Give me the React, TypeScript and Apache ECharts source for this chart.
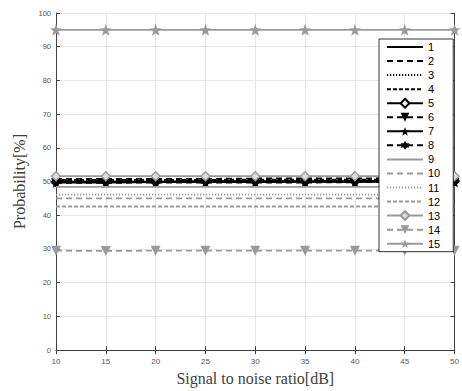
import React, { useEffect, useRef } from "react";
import * as echarts from "echarts";

const snr = [10, 15, 20, 25, 30, 35, 40, 45, 50];
const seriesNames = ["1", "2", "3", "4", "5", "6", "7", "8", "9", "10", "11", "12", "13", "14", "15"];
const s1 = [50.0, 50.0, 50.0, 50.1, 50.1, 50.1, 50.1, 50.2, 50.2];
const s2 = [50.8, 50.8, 50.8, 50.8, 50.9, 50.9, 50.9, 50.9, 50.9];
const s3 = [50.3, 50.3, 50.3, 50.3, 50.4, 50.4, 50.4, 50.4, 50.4];
const s4 = [50.5, 50.5, 50.5, 50.5, 50.6, 50.6, 50.6, 50.6, 50.6];
const s5 = [49.9, 49.9, 49.9, 50.0, 50.0, 50.0, 50.0, 50.1, 50.1];
const s6 = [49.6, 49.6, 49.7, 49.7, 49.7, 49.7, 49.8, 49.8, 49.8];
const s7 = [49.7, 49.7, 49.8, 49.8, 49.8, 49.9, 49.9, 49.9, 49.9];
const s8 = [50.2, 50.2, 50.2, 50.2, 50.3, 50.3, 50.3, 50.3, 50.3];
const s9 = [48.4, 48.4, 48.4, 48.4, 48.4, 48.4, 48.4, 48.4, 48.4];
const s10 = [45.0, 45.0, 45.0, 45.0, 45.0, 45.0, 45.0, 45.0, 45.0];
const s11 = [46.1, 46.1, 46.1, 46.1, 46.1, 46.1, 46.1, 46.1, 46.1];
const s12 = [42.6, 42.6, 42.6, 42.6, 42.6, 42.6, 42.6, 42.6, 42.6];
const s13 = [51.6, 51.6, 51.6, 51.6, 51.6, 51.6, 51.6, 51.6, 51.6];
const s14 = [29.5, 29.4, 29.5, 29.5, 29.5, 29.5, 29.5, 29.5, 29.5];
const s15 = [95.0, 95.0, 95.0, 95.0, 95.0, 95.0, 95.0, 95.0, 95.0];
const allValues = [s1, s2, s3, s4, s5, s6, s7, s8, s9, s10, s11, s12, s13, s14, s15];

const BLACK = "#000000";
const GREY = "#9a9a9a";

function starPath(): string {
  const pts: string[] = [];
  for (let i = 0; i < 10; i++) {
    const a = (-90 + i * 36) * Math.PI / 180;
    const r = i % 2 === 0 ? 1 : 0.4;
    pts.push((i === 0 ? "M" : "L") + (r * Math.cos(a)).toFixed(3) + " " + (r * Math.sin(a)).toFixed(3));
  }
  return "path://" + pts.join(" ") + " Z";
}
const STAR = starPath();
const HEXAGRAM = "path://M0 -1 L0.866 0.5 L-0.866 0.5 Z M0 1 L-0.866 -0.5 L0.866 -0.5 Z";

type Style = {
  color: string;
  type: any;
  symbol: string;
  size?: number;
  rotate?: number;
  fill?: string;
};

const styles: Style[] = [
  { color: BLACK, type: "solid", symbol: "none" },
  { color: BLACK, type: [6, 4], symbol: "none" },
  { color: BLACK, type: [1.2, 1.8], symbol: "none" },
  { color: BLACK, type: [4, 2, 4, 2], symbol: "none" },
  { color: BLACK, type: "solid", symbol: "diamond", size: 9, fill: "#ffffff" },
  { color: BLACK, type: [6, 4], symbol: "triangle", size: 9, rotate: 180 },
  { color: BLACK, type: "solid", symbol: STAR, size: 11 },
  { color: BLACK, type: [6, 4], symbol: HEXAGRAM, size: 10 },
  { color: GREY, type: "solid", symbol: "none" },
  { color: GREY, type: [6, 4], symbol: "none" },
  { color: GREY, type: [1.2, 1.8], symbol: "none" },
  { color: GREY, type: [4, 2, 4, 2], symbol: "none" },
  { color: GREY, type: "solid", symbol: "diamond", size: 9, fill: "#dddddd" },
  { color: GREY, type: [6, 4], symbol: "triangle", size: 10, rotate: 180 },
  { color: GREY, type: "solid", symbol: STAR, size: 12 },
];

export default function App() {
  const ref = useRef<HTMLDivElement>(null);
  useEffect(() => {
    document.body.style.margin = "0";
    const chart = echarts.init(ref.current!, undefined, { renderer: "svg" });
    const series = seriesNames.map((name, i) => {
      const st = styles[i];
      return {
        name,
        type: "line",
        data: snr.map((x, j) => [x, allValues[i][j]]),
        symbol: st.symbol,
        symbolSize: st.size || 0,
        symbolRotate: st.rotate || 0,
        showSymbol: st.symbol !== "none",
        color: st.color,
        lineStyle: { color: st.color, width: 1.8, type: st.type },
        itemStyle: st.fill
          ? { color: st.fill, borderColor: st.color, borderWidth: 1.4 }
          : { color: st.color, borderColor: st.color, borderWidth: 0 },
        z: 2 + i * 0.01,
      };
    });
    const legendData = seriesNames.map((name, i) =>
      styles[i].symbol === "none" ? { name, itemStyle: { opacity: 0 } } : { name }
    );
    const axisLine = { show: true, lineStyle: { color: "#404040", width: 1 } };
    chart.setOption({
      animation: false,
      backgroundColor: "#ffffff",
      grid: { left: 56, right: 5, top: 13, bottom: 36, containLabel: false },
      legend: {
        orient: "vertical",
        left: 379,
        top: 39,
        data: legendData,
        itemWidth: 36,
        itemHeight: 11,
        itemGap: 3.05,
        padding: [2.5, 13, 2.5, 7],
        backgroundColor: "#ffffff",
        borderColor: "#000000",
        borderWidth: 0.8,
        borderRadius: 0,
        textStyle: { fontSize: 11, color: "#000000", fontFamily: "Liberation Sans" },
        z: 10,
      },
      xAxis: [
        {
          type: "value",
          min: 10,
          max: 50,
          interval: 5,
          position: "bottom",
          name: "Signal to noise ratio[dB]",
          nameLocation: "middle",
          nameGap: 17,
          nameTextStyle: { fontSize: 16, fontFamily: "Liberation Serif", color: "#404040" },
          axisLine,
          axisTick: { show: true, inside: true, length: 4, lineStyle: { color: "#404040" } },
          axisLabel: { fontSize: 8, color: "#555555", margin: 7, fontFamily: "Liberation Sans" },
          splitLine: { show: true, lineStyle: { color: "#e6e6e6", width: 1 } },
        },
        {
          type: "value",
          min: 10,
          max: 50,
          interval: 5,
          position: "top",
          axisLine,
          axisTick: { show: true, inside: true, length: 4, lineStyle: { color: "#404040" } },
          axisLabel: { show: false },
          splitLine: { show: false },
        },
      ],
      yAxis: [
        {
          type: "value",
          min: 0,
          max: 100,
          interval: 10,
          position: "left",
          name: "Probability[%]",
          nameLocation: "middle",
          nameGap: 24,
          nameTextStyle: { fontSize: 16, fontFamily: "Liberation Serif", color: "#404040" },
          axisLine,
          axisTick: { show: true, inside: true, length: 4, lineStyle: { color: "#404040" } },
          axisLabel: { fontSize: 7.5, color: "#555555", margin: 5, fontFamily: "Liberation Sans" },
          splitLine: { show: true, lineStyle: { color: "#e6e6e6", width: 1 } },
        },
        {
          type: "value",
          min: 0,
          max: 100,
          interval: 10,
          position: "right",
          axisLine,
          axisTick: { show: true, inside: true, length: 4, lineStyle: { color: "#404040" } },
          axisLabel: { show: false },
          splitLine: { show: false },
        },
      ],
      series,
    });
    return () => chart.dispose();
  }, []);
  return <div ref={ref} style={{ width: 462, height: 391 }} />;
}
